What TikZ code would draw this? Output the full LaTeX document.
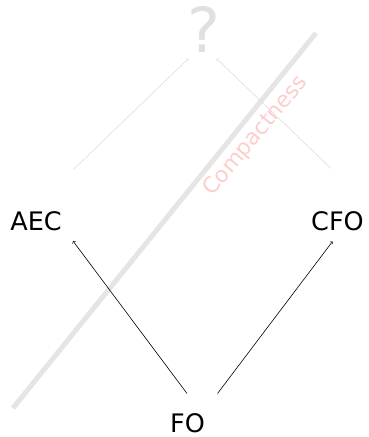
\documentclass[tikz,border=0pt]{standalone}
\usepackage{fontspec}
\setmainfont{DejaVu Sans}
\begin{document}
\begin{tikzpicture}[x=1pt,y=1pt,
  lbl/.style={inner sep=0pt, text height=18.6pt, text depth=0pt, font=\fontsize{25.5}{30}\selectfont},
  qmark/.style={inner sep=0pt, text height=45pt, text depth=0pt, text=black!12, font=\fontsize{62}{72}\selectfont},
  impl/.style={->, line width=0.6pt},
  faint/.style={->, line width=0.5pt, draw=black!15},
  barrier/.style={line width=5pt, draw=black!10},
  tag/.style={text=red!20, font=\fontsize{22}{26}\selectfont, rotate=50}
]
\useasboundingbox (0,0) rectangle (368,437);

% nodes
\node[lbl] (AEC) at (36,215.5) {AEC};
\node[lbl] (CFO) at (337.5,216) {CFO};
\node[lbl] (FO)  at (187.5,14) {FO};
\node[qmark] (Q) at (204,407) {?};

% the compactness barrier
\coordinate (barTop) at (316,404);
\coordinate (barBot) at (13,29);
\draw[barrier] (barBot) -- (barTop);
\node[tag] (compact) at (256,301) {Compactness};

% implications
\draw[impl] ([shift={(-0.5,20)}]FO.north) -- ([shift={(37,-10)}]AEC.south);
\draw[impl] ([shift={(30,20)}]FO.north) -- ([shift={(-5,-11)}]CFO.south);

% open question
\draw[faint] ([shift={(38,43)}]AEC.north) -- ([shift={(-15.7,-6)}]Q.south);
\draw[faint] ([shift={(-6.5,43)}]CFO.north) -- ([shift={(12.7,-6)}]Q.south);
\end{tikzpicture}
\end{document}
